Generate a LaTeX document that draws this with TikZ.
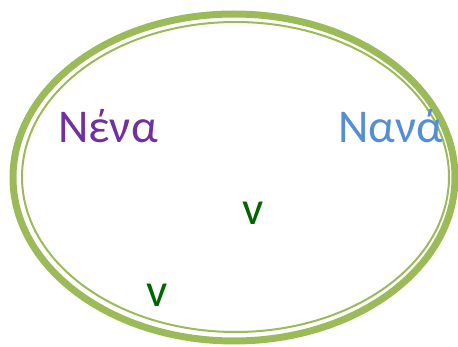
\documentclass[tikz,border=0pt]{standalone}
\usepackage{fontspec}
\setmainfont{Carlito}
\usepackage{tikz}
\usetikzlibrary{positioning}
\definecolor{ringgreen}{HTML}{9BBB59}
\definecolor{nenapurple}{HTML}{7030A0}
\definecolor{nanablue}{HTML}{558ED5}
\definecolor{vgreen}{HTML}{006600}

\begin{document}
\begin{tikzpicture}[x=1pt,y=1pt]
                \tikzstyle{every node}+=[inner sep=0pt, font=\fontsize{47}{56}\selectfont]
                \useasboundingbox (0,0) rectangle (458,-347);
                \draw [ringgreen, line width=7pt] (234,-177.5) ellipse (221 and 163.5);
                \draw [ringgreen, line width=2pt] (235.5,-177) ellipse (213.5 and 155);
                \node [nenapurple, anchor=base west] (nena) at (58,-143) {Νένα};
                \node [nanablue, anchor=base west] (nana) at (338,-143) {Νανά};
                \node [vgreen, anchor=base] (vmid) at (253,-225) {v};
                \node [vgreen, anchor=base] (vlow) at (157,-307) {v};
            \end{tikzpicture}
\end{document}
